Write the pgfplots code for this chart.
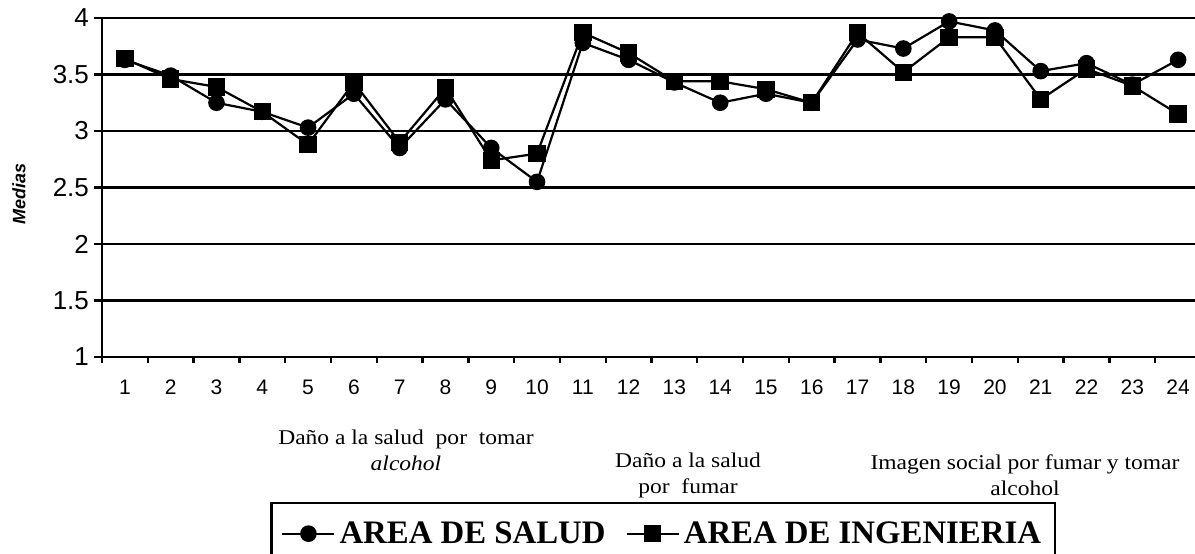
\documentclass[border=0pt]{standalone}
\usepackage{pgfplots}
\pgfplotsset{compat=1.18}
\usepackage{fontspec}
\setmainfont{Liberation Serif}
\setsansfont{Liberation Sans}

\pgfplotstableread{
x salud ing
1  3.63 3.64
2  3.49 3.46
3  3.25 3.39
4  3.17 3.17
5  3.03 2.88
6  3.33 3.43
7  2.85 2.90
8  3.28 3.38
9  2.85 2.74
10 2.55 2.80
11 3.78 3.87
12 3.63 3.69
13 3.43 3.44
14 3.25 3.44
15 3.33 3.37
16 3.25 3.25
17 3.81 3.87
18 3.73 3.52
19 3.97 3.83
20 3.89 3.83
21 3.53 3.28
22 3.60 3.55
23 3.41 3.40
24 3.63 3.15
}\medias

\begin{document}
\begin{tikzpicture}
\begin{axis}[
  at={(0,0)}, anchor=south west,
  scale only axis, width=549.5pt, height=169.5pt,
  xmin=0.5, xmax=24.5, ymin=1, ymax=4,
  xtick={1,...,24}, ytick={1,1.5,...,4},
  minor xtick={0.5,1.5,...,24.5},
  axis x line*=bottom, axis y line*=left,
  axis line style={line width=1.2pt},
  tick align=outside,
  major tick length=4pt, minor tick length=3pt,
  major x tick style={draw=none},
  minor x tick style={line width=1.2pt, black},
  major y tick style={line width=1.2pt, black},
  ymajorgrids, major grid style={line width=1.2pt, black},
  /pgf/number format/assume math mode=true,
  yticklabel style={font=\sffamily\fontsize{13}{13}\selectfont, xshift=1pt},
  xticklabel style={font=\sffamily\fontsize{10.5}{10.5}\selectfont, yshift=-4pt},
  ylabel={\textbf{\textit{Medias}}},
  ylabel style={font=\sffamily\fontsize{9}{9}\selectfont, at={(axis description cs:-0.0755,0.48)}, anchor=center},
  legend style={at={(axis description cs:0.153,-0.428)}, anchor=north west,
    draw=black, line width=1.2pt, inner xsep=5pt, inner ysep=7pt,
    font=\bfseries\fontsize{16.4}{16.4}\selectfont, legend columns=2,
    /tikz/every even column/.append style={column sep=8pt}},
  legend cell align=left,
  legend image code/.code={\draw[#1, mark repeat=2, mark phase=2] plot coordinates {(0pt,0pt) (13pt,0pt) (26pt,0pt)};},
]
\addplot[black, line width=1.1pt, mark=*, mark size=3.6pt, mark options={fill=black}] table[x=x, y=salud] {\medias};
\addlegendentry{AREA DE SALUD}
\addplot[black, line width=1.1pt, mark=square*, mark size=3.8pt, mark options={fill=black}] table[x=x, y=ing] {\medias};
\addlegendentry{AREA DE INGENIERIA}
\end{axis}
\node[align=center, font=\fontsize{10.5}{13}\selectfont, xscale=1.12] at (152pt,-46.5pt) {Daño a la salud\ \ por\ \ tomar\\ \textit{alcohol}};
\node[align=center, font=\fontsize{10.5}{13}\selectfont, xscale=1.12] at (293pt,-59pt) {Daño a la salud\\por\ \ fumar};
\node[align=center, font=\fontsize{10.5}{13}\selectfont, xscale=1.12] at (461.5pt,-59pt) {Imagen social por fumar y tomar\\alcohol};
\pgfresetboundingbox
\path[use as bounding box] (-51pt,-98pt) rectangle (546.5pt,178.5pt);
\end{tikzpicture}
\end{document}
